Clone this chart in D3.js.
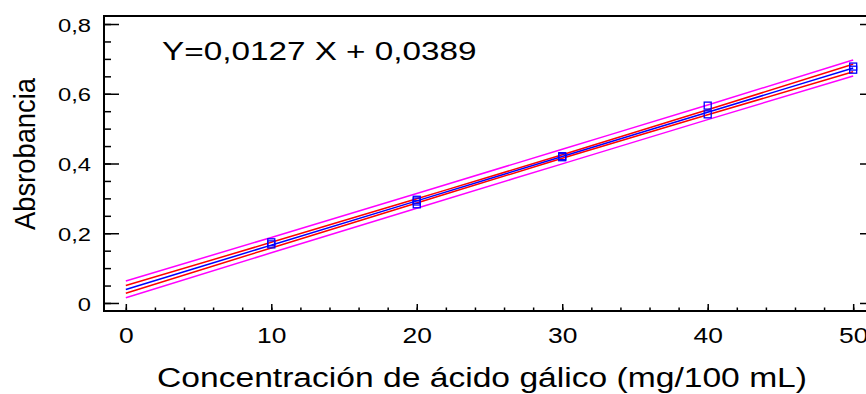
<html>
<head>
<meta charset="utf-8">
<title>Absorbancia - ácido gálico</title>
<script src="https://cdnjs.cloudflare.com/ajax/libs/d3/7.8.5/d3.min.js"></script>
<style>
body {
  margin: 0;
  background: #fff;
}
svg text {
  font-family: "Liberation Sans", Arial, sans-serif;
  fill: #000;
}
.axis path { display: none; }
.axis line { stroke: #000; stroke-width: 1.5; }
</style>
</head>
<body>
<div class="target"></div>
<script>
// data
var concX = [10, 10, 20, 20, 20, 30, 30, 40, 40, 50, 50];
var absY  = [0.168, 0.174, 0.283, 0.291, 0.296, 0.418, 0.421, 0.541, 0.566, 0.669, 0.678];

// fitted line Y = 0,0127 X + 0,0389 and its limit bands
var slope = 0.0127, intercept = 0.0389;
var bandX     = [0, 10, 20, 30, 40, 50];
var confHalf  = [0.011, 0.008, 0.006, 0.005, 0.007, 0.011];
var predHalf  = [0.024, 0.022, 0.021, 0.021, 0.021, 0.023];

var xTicks = [0, 10, 20, 30, 40, 50];
var yTicks = [0, 0.2, 0.4, 0.6, 0.8];

var width = 866, height = 394;
var frame = {left: 104, right: 875, top: 16, bottom: 311};

var svg = d3.select('.target').append('svg')
  .attr('width', width)
  .attr('height', height);

var x = d3.scaleLinear().domain([-1.5, 51.5]).range([frame.left, frame.right]);
var y = d3.scaleLinear().domain([-0.023, 0.823]).range([frame.bottom, frame.top]);

function fmt(d) {
  return d === 0 ? '0' : d3.format('.1f')(d).replace('.', ',');
}

// stretch text horizontally like the original
function stretch(sel, k) {
  sel.each(function() {
    var w = this.getComputedTextLength();
    d3.select(this)
      .attr('textLength', w * k)
      .attr('lengthAdjust', 'spacingAndGlyphs');
  });
}

// minor ticks
svg.append('g').attr('class', 'axis')
  .attr('transform', 'translate(' + frame.left + ',0)')
  .call(d3.axisLeft(y).tickValues(d3.range(0, 0.81, 0.05)).tickSize(-7).tickFormat(''));
svg.append('g').attr('class', 'axis')
  .attr('transform', 'translate(' + frame.right + ',0)')
  .call(d3.axisRight(y).tickValues(d3.range(0, 0.81, 0.05)).tickSize(-7).tickFormat(''));
svg.append('g').attr('class', 'axis')
  .attr('transform', 'translate(0,' + frame.bottom + ')')
  .call(d3.axisBottom(x).tickValues(d3.range(0, 51, 2)).tickSize(-3.5).tickFormat(''));

// major ticks
var yAxis = svg.append('g').attr('class', 'axis')
  .attr('transform', 'translate(' + frame.left + ',0)')
  .call(d3.axisLeft(y).tickValues(yTicks).tickSize(-15).tickPadding(13).tickFormat(fmt));
yAxis.selectAll('text').style('font-size', '18px').attr('dy', '0.4em');
stretch(yAxis.selectAll('text'), 1.32);

svg.append('g').attr('class', 'axis')
  .attr('transform', 'translate(' + frame.right + ',0)')
  .call(d3.axisRight(y).tickValues(yTicks).tickSize(-15).tickFormat(''));

var xAxis = svg.append('g').attr('class', 'axis')
  .attr('transform', 'translate(0,' + frame.bottom + ')')
  .call(d3.axisBottom(x).tickValues(xTicks).tickSize(-7).tickPadding(16).tickFormat(d3.format('d')));
xAxis.selectAll('text').style('font-size', '22px');
stretch(xAxis.selectAll('text'), 1.2);

// frame
svg.append('rect')
  .attr('x', frame.left)
  .attr('y', frame.top)
  .attr('width', frame.right - frame.left)
  .attr('height', frame.bottom - frame.top)
  .attr('fill', 'none')
  .attr('stroke', '#000')
  .attr('stroke-width', 2);

// lines
var line = d3.line()
  .x(function(d) { return x(d[0]); })
  .y(function(d) { return y(d[1]); })
  .curve(d3.curveMonotoneX);

function band(half, sign) {
  return bandX.map(function(v, i) { return [v, slope * v + intercept + sign * half[i]]; });
}

var lines = [
  {pts: band(predHalf, 1), color: '#ff00ff'},
  {pts: band(predHalf, -1), color: '#ff00ff'},
  {pts: band(confHalf, 1), color: '#ff0000'},
  {pts: band(confHalf, -1), color: '#ff0000'},
  {pts: band(confHalf, 0), color: '#0000ff'}
];

svg.append('g').selectAll('path')
  .data(lines)
  .enter().append('path')
    .attr('d', function(d) { return line(d.pts); })
    .attr('fill', 'none')
    .attr('stroke', function(d) { return d.color; })
    .attr('stroke-width', 1.5);

// points
svg.append('g').selectAll('rect')
  .data(concX)
  .enter().append('rect')
    .attr('x', function(d) { return x(d) - 3.5; })
    .attr('y', function(d, i) { return y(absY[i]) - 3.5; })
    .attr('width', 7)
    .attr('height', 7)
    .attr('fill', 'none')
    .attr('stroke', '#0000ff')
    .attr('stroke-width', 1.3);

// texts
var eq = svg.append('text')
  .attr('x', 162)
  .attr('y', 60)
  .style('font-size', '26px')
  .text('Y=0,0127 X + 0,0389');
stretch(eq, 1.28);

svg.append('text')
  .attr('x', 482)
  .attr('y', 387)
  .attr('text-anchor', 'middle')
  .style('font-size', '27px')
  .attr('textLength', 650)
  .attr('lengthAdjust', 'spacingAndGlyphs')
  .text('Concentración de ácido gálico (mg/100 mL)');

svg.append('text')
  .attr('transform', 'translate(35,154) rotate(-90)')
  .attr('text-anchor', 'middle')
  .style('font-size', '29px')
  .attr('textLength', 152)
  .attr('lengthAdjust', 'spacingAndGlyphs')
  .text('Absrobancia');
</script>
</body>
</html>
